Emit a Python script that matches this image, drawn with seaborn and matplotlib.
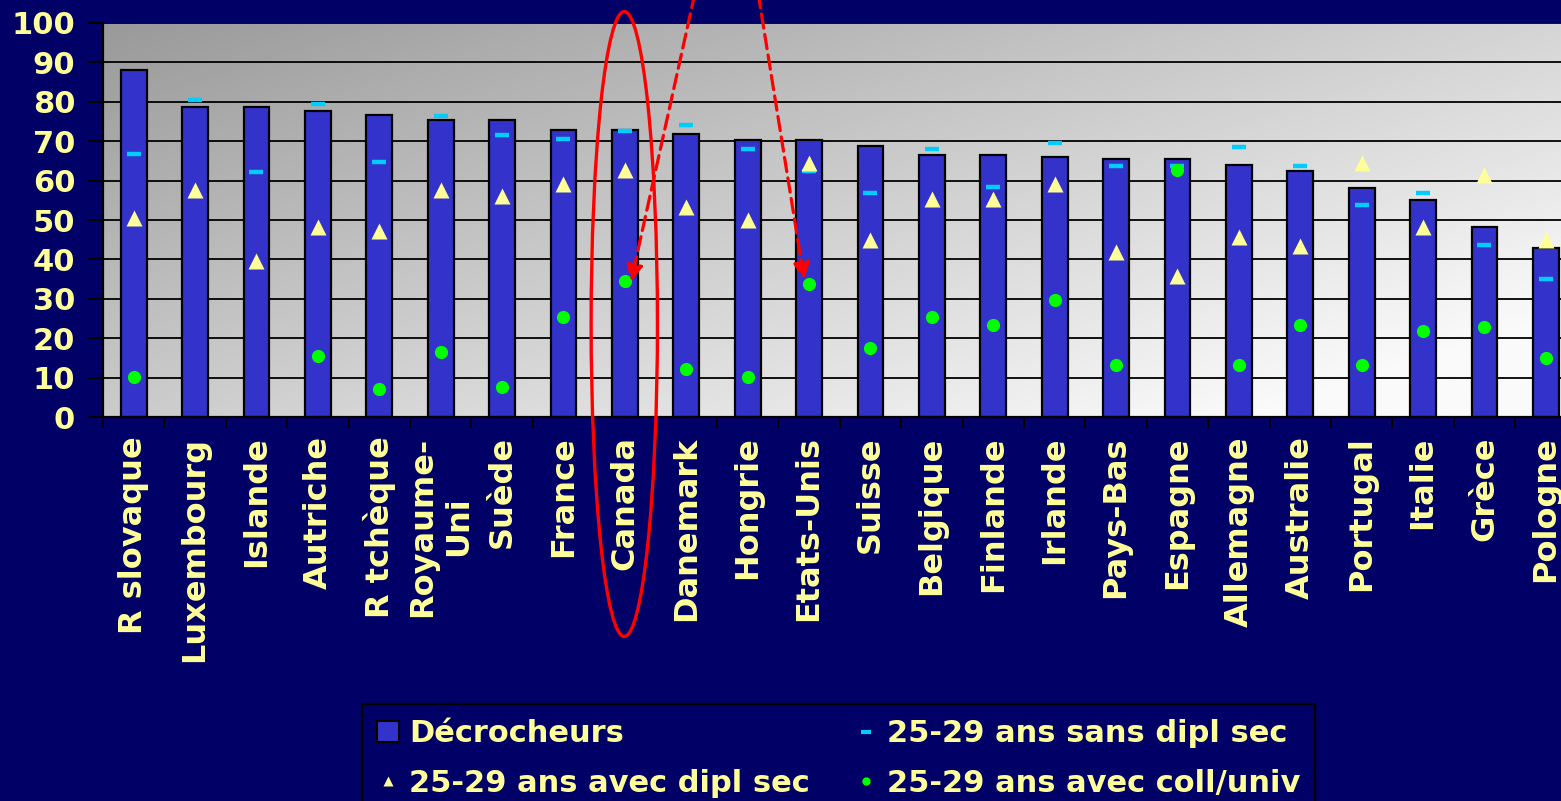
import numpy as np
import pandas as pd
import seaborn as sns
import matplotlib.pyplot as plt
from matplotlib.patches import Ellipse, Patch
from matplotlib.lines import Line2D

# values (%)
pays = ['R slovaque', 'Luxembourg', 'Islande', 'Autriche', 'R tchèque', 'Royaume-\nUni',
        'Suède', 'France', 'Canada', 'Danemark', 'Hongrie', 'Etats-Unis', 'Suisse',
        'Belgique', 'Finlande', 'Irlande', 'Pays-Bas', 'Espagne', 'Allemagne',
        'Australie', 'Portugal', 'Italie', 'Grèce', 'Pologne']
decrocheurs = [88.0, 78.7, 78.7, 77.6, 76.6, 75.5, 75.5, 72.9, 72.8, 71.8, 70.2, 70.2,
               68.7, 66.6, 66.6, 66.1, 65.5, 65.5, 64.0, 62.4, 58.2, 55.1, 48.3, 43.0]
sans_dipl = [66.8, 80.5, 62.1, 79.5, 64.7, 76.4, 71.6, 70.6, 72.7, 74.1, 67.9, 62.5,
             56.9, 67.9, 58.5, 69.5, 63.7, 63.7, 68.5, 63.7, 53.7, 56.9, 43.7, 34.9]
avec_dipl = [50.6, 57.6, 39.7, 48.1, 47.1, 57.6, 56.0, 59.2, 62.7, 53.3, 50.1, 64.4,
             45.0, 55.4, 55.4, 59.2, 41.8, 35.9, 45.6, 43.3, 64.4, 48.1, 61.3, 45.0]
coll_univ = [10.2, np.nan, np.nan, 15.4, 7.2, 16.5, 7.6, 25.4, 34.4, 12.3, 10.2, 33.8,
             17.6, 25.4, 23.3, 29.6, 13.3, 62.7, 13.3, 23.3, 13.3, 21.8, 22.8, 14.9]

NAVY = '#000066'
YEL = '#FFFF99'
BLUE = '#3333CC'
CYAN = '#00CCFF'
GREEN = '#00FF00'

plt.rcParams['font.family'] = 'DejaVu Sans'
plt.rcParams['font.weight'] = 'bold'

df = pd.DataFrame({'pays': pays, 'decrocheurs': decrocheurs})
n = len(pays)
x = np.arange(n)

fig = plt.figure(figsize=(15.61, 8.01), dpi=100, facecolor=NAVY)
rect = [103 / 1561, 1 - 417 / 801, 24 * 61.4 / 1561, 394 / 801]

# gradient plot area (dark grey top-left -> almost white bottom-right)
bg = fig.add_axes(rect, zorder=0)
u = np.linspace(0, 1, 300)
v = np.linspace(0, 1, 200)
U, V = np.meshgrid(u, v)
grad = np.clip(153 + 60 * U + 50 * V, 0, 250)
bg.imshow(grad, extent=[0, 1, 0, 1], aspect='auto', cmap='gray', vmin=0, vmax=255)
bg.axis('off')

ax = fig.add_axes(rect, zorder=1)
ax.set_facecolor('none')

sns.barplot(data=df, x='pays', y='decrocheurs', color=BLUE, saturation=1,
            edgecolor='black', linewidth=1.6, width=0.42, ax=ax, zorder=2)

ax.plot(x, sans_dipl, ls='none', marker='_', ms=10, mew=3.2, color=CYAN, zorder=3)
ax.plot(x, avec_dipl, ls='none', marker='^', ms=11, mec='none', color=YEL, zorder=3)
ax.plot(x, coll_univ, ls='none', marker='o', ms=9.5, mec='none', color=GREEN, zorder=3)

ax.set_xlim(-0.5, n - 0.5)
ax.set_ylim(0, 100)
ax.set_yticks(np.arange(0, 101, 10))
ax.yaxis.grid(True, color='black', lw=1.3)
ax.set_axisbelow(True)
ax.set_xlabel('')
ax.set_ylabel('')
for s in ['top', 'right']:
    ax.spines[s].set_visible(False)
for s in ['left', 'bottom']:
    ax.spines[s].set_color('black')
    ax.spines[s].set_linewidth(1.6)

ax.tick_params(axis='y', direction='out', length=11, width=1.3, color='black',
               labelsize=22, labelcolor=YEL, pad=9)
ax.set_xticks(np.arange(-0.5, n), minor=True)
ax.tick_params(axis='x', which='major', length=0, pad=14, labelsize=23, labelcolor=YEL)
ax.tick_params(axis='x', which='minor', direction='out', length=8, width=1.3, color='black')
for lbl in ax.get_xticklabels():
    lbl.set_rotation(90)
    lbl.set_ha('center')
    lbl.set_va('top')
    lbl.set_multialignment('center')

# red highlight around Canada and arrows to the college/university points
ic = pays.index('Canada')
ax.add_patch(Ellipse((ic - 0.01, 23.6), 1.08, 158.6, fill=False, edgecolor='red',
                     lw=2.4, clip_on=False, zorder=5))
iu = pays.index('Etats-Unis')
for start, tip in [((ic + 1.14, 107.5), (ic + 0.10, 34.4)),
                   ((iu - 0.83, 107.5), (iu - 0.08, 34.9))]:
    ax.annotate('', xy=tip, xytext=start, annotation_clip=False, zorder=5,
                arrowprops=dict(arrowstyle='-|>', color='red', lw=2.3, ls=(0, (4.5, 2)),
                                mutation_scale=24, shrinkA=0, shrinkB=0))

handles = [Patch(facecolor=BLUE, edgecolor='black', lw=1.5),
           Line2D([], [], ls='none', marker='^', ms=7, mec='none', color=YEL),
           Line2D([], [], ls='none', marker='_', ms=7, mew=3, color=CYAN),
           Line2D([], [], ls='none', marker='o', ms=6, mec='none', color=GREEN)]
labels = ['Décrocheurs', '25-29 ans avec dipl sec',
          '25-29 ans sans dipl sec', '25-29 ans avec coll/univ']
leg = fig.legend(handles, labels, ncol=2, loc='upper left',
                 bbox_to_anchor=(362 / 1561, 1 - 704 / 801), borderaxespad=0,
                 fontsize=22, labelcolor=YEL, facecolor=NAVY, edgecolor='black',
                 fancybox=False, framealpha=1, handlelength=0.7, handleheight=0.7,
                 handletextpad=0.33, columnspacing=1.5, borderpad=0.5,
                 labelspacing=0.68)
leg.get_frame().set_linewidth(1.6)

fig.savefig('out.png', dpi=100, facecolor=NAVY)
